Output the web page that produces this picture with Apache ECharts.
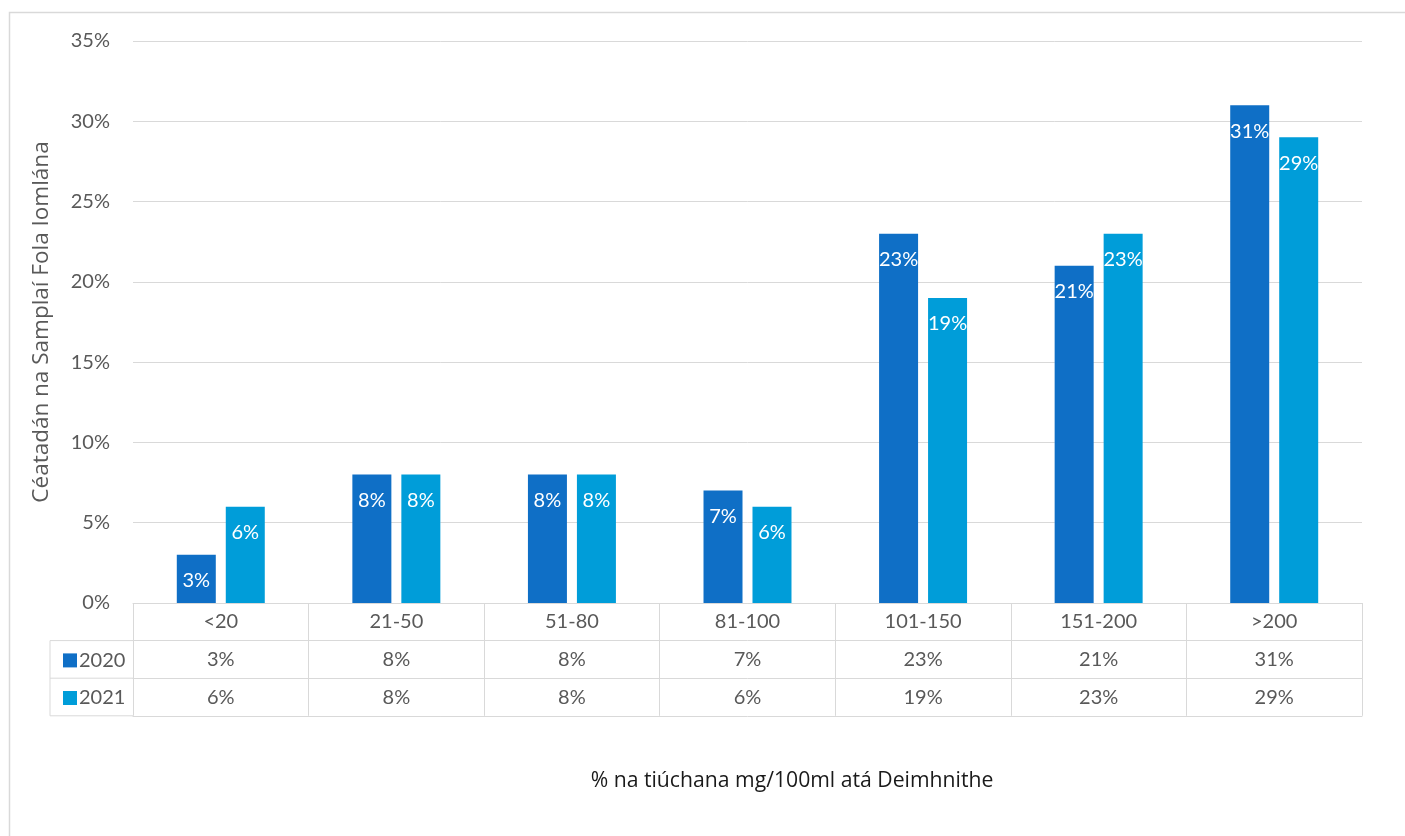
<!DOCTYPE html>
<html>
<head>
<meta charset="utf-8">
<script src="https://cdn.jsdelivr.net/npm/echarts@6/dist/echarts.min.js"></script>
<style>
html,body{margin:0;padding:0;background:#fff;}
#chart{width:1405px;height:836px;}
</style>
</head>
<body>
<div id="chart"></div>
<script>
// ---- data ----
const categories = ['<20', '21-50', '51-80', '81-100', '101-150', '151-200', '>200'];
const seriesNames = ['2020', '2021'];
const values2020 = [3, 8, 8, 7, 23, 21, 31];
const values2021 = [6, 8, 8, 6, 19, 23, 29];
const yTicks = [0, 5, 10, 15, 20, 25, 30, 35];
const yAxisTitle = 'Céatadán na Samplaí Fola Iomlána';
const xAxisTitle = '% na tiúchana mg/100ml atá Deimhnithe';

// ---- layout / style ----
const FONT = 'Lato';
const TFONT = 'Open Sans';
const FS = 20;
const XTFS = 21.2;
const YTFS = 22.5;
const C2020 = '#0F6FC6';
const C2021 = '#009DD9';
const GRAY = '#595959';
const LINE = '#d9d9d9';
const gridLeft = 133, gridRight = 43, gridTop = 41, gridBottom = 233;
const H = 836, W = 1405;
const axisY = H - gridBottom;      // y of 0%
const rowH = 37.6;
const legendLeft = 50;

const chart = echarts.init(document.getElementById('chart'), null, {renderer: 'canvas'});

function tableAxis(offset, labels, showTicks) {
  return {
    type: 'category',
    data: categories,
    position: 'bottom',
    offset: offset,
    boundaryGap: true,
    axisLine: {show: true, lineStyle: {color: LINE, width: 1}},
    axisTick: {show: showTicks, interval: 0, length: rowH, lineStyle: {color: LINE, width: 1}},
    axisLabel: {
      show: !!labels,
      interval: 0,
      margin: 9,
      color: GRAY,
      fontFamily: FONT,
      fontSize: FS,
      formatter: labels ? function (v, i) { return labels[i]; } : undefined
    },
    splitLine: {show: false}
  };
}

const option = {
  backgroundColor: '#fff',
  animation: false,
  grid: {left: gridLeft, right: gridRight, top: gridTop, bottom: gridBottom, containLabel: false, outerBoundsMode: 'none'},
  legend: {
    orient: 'vertical',
    left: legendLeft + 8,
    top: axisY + rowH + rowH / 2 - 14,
    itemWidth: 14,
    itemHeight: 14,
    itemGap: rowH - 20,
    icon: 'rect',
    textStyle: {color: GRAY, fontFamily: FONT, fontSize: FS, lineHeight: 20, padding: [0, 0, 0, -3]},
    data: seriesNames,
    selectedMode: false
  },
  xAxis: [
    tableAxis(0, categories, true),
    tableAxis(rowH, values2020.map(v => v + '%'), true),
    tableAxis(rowH * 2, values2021.map(v => v + '%'), true),
    tableAxis(rowH * 3, null, false)
  ],
  yAxis: {
    type: 'value',
    min: yTicks[0],
    max: yTicks[yTicks.length - 1],
    interval: yTicks[1] - yTicks[0],
    name: yAxisTitle,
    nameLocation: 'middle',
    nameGap: 80,
    nameRotate: 90,
    nameTextStyle: {color: GRAY, fontFamily: TFONT, fontSize: YTFS},
    axisLine: {show: false},
    axisTick: {show: false},
    axisLabel: {color: GRAY, fontFamily: FONT, fontSize: FS, margin: 23, formatter: v => v + '%'},
    splitLine: {show: true, lineStyle: {color: LINE, width: 1}}
  },
  series: [
    {
      name: seriesNames[0], type: 'bar', xAxisIndex: 0,
      data: values2020, barWidth: 39, barGap: '25.6%',
      itemStyle: {color: C2020},
      label: {show: true, position: 'insideTop', distance: 16, color: '#fff', fontFamily: FONT, fontSize: FS, formatter: p => p.value + '%'}
    },
    {
      name: seriesNames[1], type: 'bar', xAxisIndex: 0,
      data: values2021, barWidth: 39, barGap: '25.6%',
      itemStyle: {color: C2021},
      label: {show: true, position: 'insideTop', distance: 16, color: '#fff', fontFamily: FONT, fontSize: FS, formatter: p => p.value + '%'}
    }
  ],
  graphic: [
    {type: 'rect', silent: true, shape: {x: 9.5, y: 12.5, width: W + 20, height: H + 20}, style: {fill: 'none', stroke: LINE, lineWidth: 1.5}},
    {type: 'line', silent: true, shape: {x1: legendLeft, y1: axisY + rowH, x2: gridLeft, y2: axisY + rowH}, style: {stroke: LINE, lineWidth: 1}},
    {type: 'line', silent: true, shape: {x1: legendLeft, y1: axisY + rowH * 2, x2: gridLeft, y2: axisY + rowH * 2}, style: {stroke: LINE, lineWidth: 1}},
    {type: 'line', silent: true, shape: {x1: legendLeft, y1: axisY + rowH * 3, x2: gridLeft, y2: axisY + rowH * 3}, style: {stroke: LINE, lineWidth: 1}},
    {type: 'line', silent: true, shape: {x1: legendLeft, y1: axisY + rowH, x2: legendLeft, y2: axisY + rowH * 3}, style: {stroke: LINE, lineWidth: 1}},
    {type: 'text', silent: true, x: 792, y: 781, style: {text: xAxisTitle, fill: '#1a1a1a', font: XTFS + 'px "' + TFONT + '"', textAlign: 'center', textVerticalAlign: 'middle'}}
  ]
};
chart.setOption(option);
</script>
</body>
</html>
